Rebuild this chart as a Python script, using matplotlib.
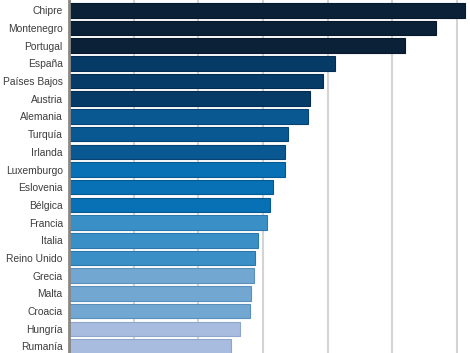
import matplotlib.pyplot as plt
import numpy as np

paises = ["Chipre", "Montenegro", "Portugal", "España", "Países Bajos", "Austria",
          "Alemania", "Turquía", "Irlanda", "Luxemburgo", "Eslovenia", "Bélgica",
          "Francia", "Italia", "Reino Unido", "Grecia", "Malta", "Croacia",
          "Hungría", "Rumanía"]
valores = [30.6, 28.4, 26.0, 20.6, 19.6, 18.6, 18.5, 16.9, 16.7, 16.7,
           15.8, 15.5, 15.3, 14.6, 14.4, 14.3, 14.1, 14.0, 13.2, 12.5]
colores = ["#0b2137"] * 3 + ["#063b68"] * 3 + ["#0a5892"] * 3 + \
          ["#0870b4"] * 3 + ["#3a90c6"] * 3 + ["#72a7d2"] * 3 + ["#a8bcdf"] * 2
bordes = ["#07182a"] * 3 + ["#042c50"] * 3 + ["#074474"] * 3 + \
         ["#055a92"] * 3 + ["#2a78ac"] * 3 + ["#5a90bd"] * 3 + ["#8ea6cc"] * 2

plt.rcParams['font.family'] = ['Liberation Sans', 'DejaVu Sans']

fig = plt.figure(figsize=(4.7, 3.53), dpi=100)
ax = fig.add_axes([69 / 470, 0, 1 - 69 / 470, 1])

y = np.arange(len(paises))
ax.barh(y, valores, height=0.82, color=colores, edgecolor=bordes, linewidth=0.8, zorder=3)

ax.set_xlim(0, 31.0)
ax.set_ylim(19.37, -0.58)
ax.set_xticks([5, 10, 15, 20, 25, 30])
ax.set_xticklabels([])
ax.tick_params(axis='x', length=0)
ax.grid(True, axis='x', color='#d4d4d4', linewidth=1.5, zorder=0)

ax.set_yticks(y)
ax.set_yticklabels(paises, fontsize=7.4, color='#3d3d3d')
ax.tick_params(axis='y', length=0, pad=4.5)

for s in ['top', 'right', 'bottom']:
    ax.spines[s].set_visible(False)
ax.spines['left'].set_color('#8c8782')
ax.spines['left'].set_linewidth(2)
ax.spines['left'].set_zorder(4)

fig.savefig("out.png", dpi=100)
